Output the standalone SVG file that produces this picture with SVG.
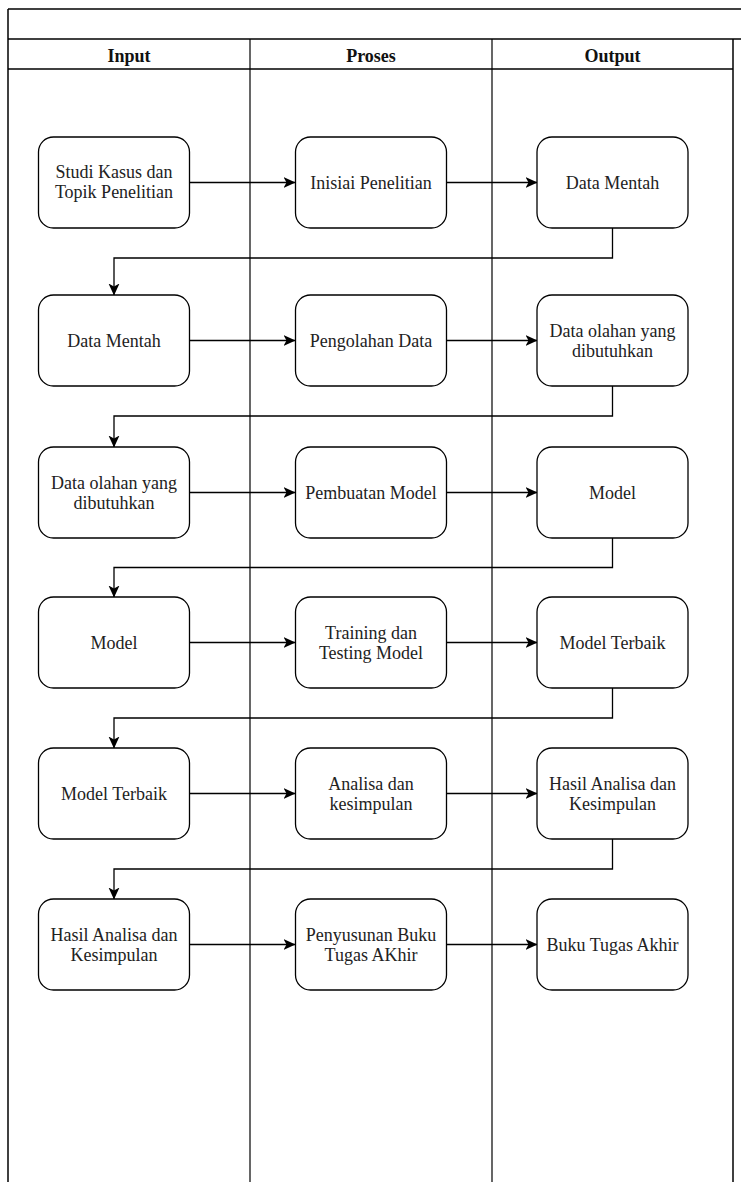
<svg xmlns="http://www.w3.org/2000/svg" width="741" height="1182" viewBox="0 0 741 1182">
<style>
.frame{fill:none;stroke:#000;stroke-width:1.5}
.lane{fill:none;stroke:#000;stroke-width:1.2}
.box{fill:#fff;stroke:#000;stroke-width:1.3}
.t{font-family:"Liberation Serif","Times New Roman",serif;font-size:18px;fill:#222;text-anchor:middle}
.h{font-family:"Liberation Serif","Times New Roman",serif;font-size:18px;font-weight:bold;fill:#111;text-anchor:middle}
.c{fill:none;stroke:#000;stroke-width:1.3}
</style>
<defs>
<marker id="arr" markerUnits="userSpaceOnUse" viewBox="0 0 12 12" markerWidth="12" markerHeight="12" refX="11.5" refY="6" orient="auto">
<path d="M0,0.5 L12,6 L0,11.5 L3,6 Z" fill="#000"/>
</marker>
</defs>
<rect width="741" height="1182" fill="#fff"/>
<g id="pool">
<line class="frame" x1="8" y1="9" x2="741" y2="9"/>
<line class="frame" x1="8" y1="39" x2="741" y2="39"/>
<line class="frame" x1="8" y1="69" x2="733" y2="69"/>
<line class="frame" x1="8" y1="9" x2="8" y2="1182"/>
<line class="lane" x1="250" y1="39" x2="250" y2="1182"/>
<line class="lane" x1="492" y1="39" x2="492" y2="1182"/>
<line class="frame" x1="733" y1="39" x2="733" y2="1182"/>
<text class="h" x="129" y="62">Input</text>
<text class="h" x="371" y="62">Proses</text>
<text class="h" x="612.5" y="62">Output</text>
</g>
<g id="connectors">
<line class="c" x1="189.5" y1="182.5" x2="295" y2="182.5" marker-end="url(#arr)"/>
<line class="c" x1="446.5" y1="182.5" x2="537" y2="182.5" marker-end="url(#arr)"/>
<polyline class="c" points="612.5,228 612.5,258 114,258 114,295" marker-end="url(#arr)"/>
<line class="c" x1="189.5" y1="340.5" x2="295" y2="340.5" marker-end="url(#arr)"/>
<line class="c" x1="446.5" y1="340.5" x2="537" y2="340.5" marker-end="url(#arr)"/>
<polyline class="c" points="612.5,386 612.5,416 114,416 114,447" marker-end="url(#arr)"/>
<line class="c" x1="189.5" y1="492.5" x2="295" y2="492.5" marker-end="url(#arr)"/>
<line class="c" x1="446.5" y1="492.5" x2="537" y2="492.5" marker-end="url(#arr)"/>
<polyline class="c" points="612.5,538 612.5,567.5 114,567.5 114,597" marker-end="url(#arr)"/>
<line class="c" x1="189.5" y1="642.5" x2="295" y2="642.5" marker-end="url(#arr)"/>
<line class="c" x1="446.5" y1="642.5" x2="537" y2="642.5" marker-end="url(#arr)"/>
<polyline class="c" points="612.5,688 612.5,718 114,718 114,748" marker-end="url(#arr)"/>
<line class="c" x1="189.5" y1="793.5" x2="295" y2="793.5" marker-end="url(#arr)"/>
<line class="c" x1="446.5" y1="793.5" x2="537" y2="793.5" marker-end="url(#arr)"/>
<polyline class="c" points="612.5,839 612.5,869 114,869 114,899" marker-end="url(#arr)"/>
<line class="c" x1="189.5" y1="944.5" x2="295" y2="944.5" marker-end="url(#arr)"/>
<line class="c" x1="446.5" y1="944.5" x2="537" y2="944.5" marker-end="url(#arr)"/>
</g>
<g id="n1"><rect class="box" x="38.5" y="137" width="151" height="91" rx="15"/><text class="t" x="114" y="178">Studi Kasus dan</text><text class="t" x="114" y="198">Topik Penelitian</text></g>
<g id="n2"><rect class="box" x="295.5" y="137" width="151" height="91" rx="15"/><text class="t" x="371" y="188.5">Inisiai Penelitian</text></g>
<g id="n3"><rect class="box" x="537" y="137" width="151" height="91" rx="15"/><text class="t" x="612.5" y="188.5">Data Mentah</text></g>
<g id="n4"><rect class="box" x="38.5" y="295" width="151" height="91" rx="15"/><text class="t" x="114" y="346.5">Data Mentah</text></g>
<g id="n5"><rect class="box" x="295.5" y="295" width="151" height="91" rx="15"/><text class="t" x="371" y="346.5">Pengolahan Data</text></g>
<g id="n6"><rect class="box" x="537" y="295" width="151" height="91" rx="15"/><text class="t" x="612.5" y="336.5">Data olahan yang</text><text class="t" x="612.5" y="356.5">dibutuhkan</text></g>
<g id="n7"><rect class="box" x="38.5" y="447" width="151" height="91" rx="15"/><text class="t" x="114" y="488.5">Data olahan yang</text><text class="t" x="114" y="508.5">dibutuhkan</text></g>
<g id="n8"><rect class="box" x="295.5" y="447" width="151" height="91" rx="15"/><text class="t" x="371" y="498.5">Pembuatan Model</text></g>
<g id="n9"><rect class="box" x="537" y="447" width="151" height="91" rx="15"/><text class="t" x="612.5" y="498.5">Model</text></g>
<g id="n10"><rect class="box" x="38.5" y="597" width="151" height="91" rx="15"/><text class="t" x="114" y="648.5">Model</text></g>
<g id="n11"><rect class="box" x="295.5" y="597" width="151" height="91" rx="15"/><text class="t" x="371" y="638.5">Training dan</text><text class="t" x="371" y="658.5">Testing Model</text></g>
<g id="n12"><rect class="box" x="537" y="597" width="151" height="91" rx="15"/><text class="t" x="612.5" y="648.5">Model Terbaik</text></g>
<g id="n13"><rect class="box" x="38.5" y="748" width="151" height="91" rx="15"/><text class="t" x="114" y="799.5">Model Terbaik</text></g>
<g id="n14"><rect class="box" x="295.5" y="748" width="151" height="91" rx="15"/><text class="t" x="371" y="789.5">Analisa dan</text><text class="t" x="371" y="809.5">kesimpulan</text></g>
<g id="n15"><rect class="box" x="537" y="748" width="151" height="91" rx="15"/><text class="t" x="612.5" y="789.5">Hasil Analisa dan</text><text class="t" x="612.5" y="809.5">Kesimpulan</text></g>
<g id="n16"><rect class="box" x="38.5" y="899" width="151" height="91" rx="15"/><text class="t" x="114" y="940.5">Hasil Analisa dan</text><text class="t" x="114" y="960.5">Kesimpulan</text></g>
<g id="n17"><rect class="box" x="295.5" y="899" width="151" height="91" rx="15"/><text class="t" x="371" y="940.5">Penyusunan Buku</text><text class="t" x="371" y="960.5">Tugas AKhir</text></g>
<g id="n18"><rect class="box" x="537" y="899" width="151" height="91" rx="15"/><text class="t" x="612.5" y="950.5">Buku Tugas Akhir</text></g>
</svg>
